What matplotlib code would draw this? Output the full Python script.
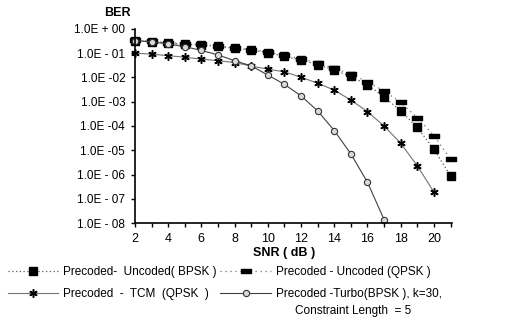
import numpy as np
import matplotlib.pyplot as plt
from matplotlib.path import Path

# SNR (dB) and bit error rates for each scheme
snr_uncoded = [2, 3, 4, 5, 6, 7, 8, 9, 10, 11, 12, 13, 14, 15, 16, 17, 18, 19, 20, 21]
ber_bpsk = [3.3e-1, 3.0e-1, 2.6e-1, 2.3e-1, 2.2e-1, 1.9e-1, 1.6e-1, 1.35e-1, 1.05e-1, 7.4e-2,
            5.2e-2, 3.4e-2, 2.0e-2, 1.1e-2, 5.0e-3, 1.6e-3, 4.2e-4, 8.7e-5, 1.1e-5, 8.9e-7]
ber_qpsk = [3.4e-1, 3.1e-1, 2.7e-1, 2.45e-1, 2.3e-1, 1.95e-1, 1.65e-1, 1.4e-1, 1.12e-1, 8.1e-2,
            5.9e-2, 3.9e-2, 2.4e-2, 1.35e-2, 6.6e-3, 2.75e-3, 9.5e-4, 2.2e-4, 4.0e-5, 4.3e-6]

snr_tcm = [2, 3, 4, 5, 6, 7, 8, 9, 10, 11, 12, 13, 14, 15, 16, 17, 18, 19, 20]
ber_tcm = [1.0e-1, 9.1e-2, 7.9e-2, 6.8e-2, 5.7e-2, 4.9e-2, 4.1e-2, 2.95e-2, 2.2e-2, 1.7e-2,
           1.02e-2, 5.8e-3, 3.0e-3, 1.17e-3, 3.9e-4, 1.0e-4, 1.95e-5, 2.3e-6, 1.9e-7]

snr_turbo = [2, 3, 4, 5, 6, 7, 8, 9, 10, 11, 12, 13, 14, 15, 16, 17]
ber_turbo = [3.3e-1, 2.9e-1, 2.4e-1, 1.85e-1, 1.3e-1, 8.5e-2, 4.9e-2, 3.0e-2, 1.26e-2, 5.2e-3,
             1.74e-3, 4.2e-4, 6.5e-5, 7.1e-6, 4.8e-7, 1.4e-8]

y_ticks = [1e0, 1e-1, 1e-2, 1e-3, 1e-4, 1e-5, 1e-6, 1e-7, 1e-8]
y_tick_labels = ['1.0E + 00', '1.0E - 01', '1.0E -02', '1.0E -03', '1.0E -04',
                 '1.0E -05', '1.0E - 06', '1.0E - 07', '1.0E - 08']
x_ticks = [2, 4, 6, 8, 10, 12, 14, 16, 18, 20]

plt.rcParams['font.family'] = ['Liberation Sans', 'DejaVu Sans']

# flat bar marker for the QPSK curve
bar_marker = Path([(-1, -0.45), (1, -0.45), (1, 0.45), (-1, 0.45), (-1, -0.45)],
                  [Path.MOVETO, Path.LINETO, Path.LINETO, Path.LINETO, Path.CLOSEPOLY])

fig = plt.figure(figsize=(5.15, 3.21), dpi=100)
ax = fig.add_axes([0.262, 0.305, 0.616, 0.605])

l_bpsk, = ax.semilogy(snr_uncoded, ber_bpsk, ls=(0, (1, 2)), color='0.35', lw=0.9,
                      marker='s', ms=5.5, mfc='black', mec='black', clip_on=False)
l_qpsk, = ax.semilogy(snr_uncoded, ber_qpsk, ls=(0, (1, 3)), color='0.45', lw=0.9,
                      marker=bar_marker, ms=6.5, mfc='black', mec='black', clip_on=False)
l_tcm, = ax.semilogy(snr_tcm, ber_tcm, ls='-', color='0.45', lw=0.8,
                     marker=(6, 2, 0), ms=6, mec='black', mew=1.1, clip_on=False)
l_turbo, = ax.semilogy(snr_turbo, ber_turbo, ls='-', color='0.25', lw=0.8,
                       marker='o', ms=4.5, mfc='0.85', mec='0.2', mew=0.8, clip_on=False)

ax.set_xlim(2, 21.1)
ax.set_ylim(1e-8, 1e0)
ax.set_yticks(y_ticks)
ax.set_yticklabels(y_tick_labels)
ax.yaxis.set_minor_locator(plt.NullLocator())
ax.set_xticks(x_ticks)
ax.set_xticks([3, 5, 7, 9, 11, 13, 15, 17, 19, 21], minor=True)

for side in ['top', 'right']:
    ax.spines[side].set_visible(False)
for side in ['left', 'bottom']:
    ax.spines[side].set_linewidth(1.2)

ax.tick_params(axis='y', which='major', direction='out', length=3, width=1, pad=4, labelsize=8.5)
ax.tick_params(axis='x', which='both', direction='out', length=3, width=1, pad=4, labelsize=9)

fig.text(0.227, 0.96, 'BER', fontsize=9, fontweight='bold', ha='center', va='center')
fig.text(0.551, 0.212, 'SNR ( dB )', fontsize=9, fontweight='bold', ha='center', va='center')

handles = [l_bpsk, l_tcm, l_qpsk, l_turbo]
labels = ['Precoded-  Uncoded( BPSK )', 'Precoded  -  TCM  (QPSK  )',
          'Precoded - Uncoded (QPSK )', 'Precoded -Turbo(BPSK ), k=30,']
fig.legend(handles, labels, ncol=2, loc='upper left', bbox_to_anchor=(0.015, 0.17),
           frameon=False, fontsize=8.5, handlelength=4.3, handletextpad=0.4,
           columnspacing=0.3, labelspacing=0.85, borderaxespad=0, borderpad=0)
fig.text(0.573, 0.031, 'Constraint Length  = 5', fontsize=8.5, ha='left', va='center')

fig.savefig('out.png', dpi=100)
